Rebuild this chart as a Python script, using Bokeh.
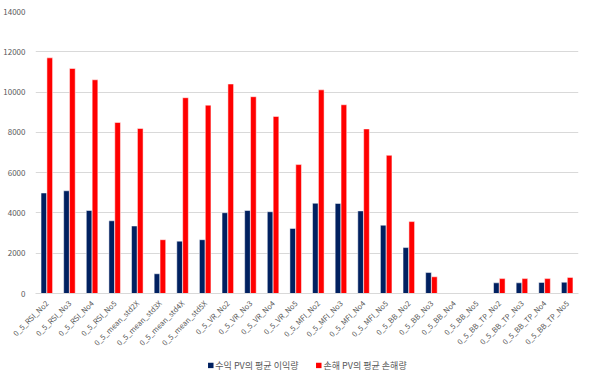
from bokeh.plotting import figure
from bokeh.models import ColumnDataSource, FactorRange, FixedTicker, Legend, LegendItem
from bokeh.transform import dodge
from bokeh.layouts import column
from bokeh.embed import file_html
from bokeh.resources import INLINE
import math

categories = ["0_5_RSI_No2", "0_5_RSI_No3", "0_5_RSI_No4", "0_5_RSI_No5",
              "0_5_mean_std2X", "0_5_mean_std3X", "0_5_mean_std4X", "0_5_mean_std5X",
              "0_5_VR_No2", "0_5_VR_No3", "0_5_VR_No4", "0_5_VR_No5",
              "0_5_MFI_No2", "0_5_MFI_No3", "0_5_MFI_No4", "0_5_MFI_No5",
              "0_5_BB_No2", "0_5_BB_No3", "0_5_BB_No4", "0_5_BB_No5",
              "0_5_BB_TP_No2", "0_5_BB_TP_No3", "0_5_BB_TP_No4", "0_5_BB_TP_No5"]
profit = [4990, 5100, 4120, 3610, 3350, 980, 2600, 2670,
          4010, 4120, 4060, 3230, 4480, 4470, 4100, 3390,
          2280, 1040, 0, 0, 530, 530, 550, 560]
loss = [11700, 11170, 10610, 8490, 8190, 2670, 9720, 9350,
        10400, 9770, 8790, 6400, 10110, 9370, 8170, 6860,
        3570, 830, 0, 0, 740, 740, 740, 800]
yticks = [0, 2000, 4000, 6000, 8000, 10000, 12000, 14000]

series_names = ["수익 PV의 평균 이익량", "손해 PV의 평균 손해량"]
colors = ["#002060", "#FF0000"]

src = ColumnDataSource(dict(cat=categories, profit=profit, loss=loss))

FONT = "Noto Sans CJK KR"

p = figure(width=590, height=354, x_range=FactorRange(*categories), y_range=(0, 14000),
           output_backend="svg", toolbar_location=None,
           min_border_left=25, min_border_right=12, min_border_top=11, min_border_bottom=55)
p.outline_line_color = None

p.vbar(x=dodge("cat", -0.13, range=p.x_range), top="profit", width=0.25,
       source=src, fill_color=colors[0], line_color="white", line_width=0.5)
p.vbar(x=dodge("cat", 0.13, range=p.x_range), top="loss", width=0.25,
       source=src, fill_color=colors[1], line_color="white", line_width=0.5)

p.yaxis.ticker = FixedTicker(ticks=yticks)
p.yaxis.axis_line_color = None
p.yaxis.major_tick_line_color = None
p.yaxis.minor_tick_line_color = None
p.yaxis.major_label_text_font = FONT
p.yaxis.major_label_text_font_size = "8px"
p.yaxis.major_label_text_color = "#595959"
p.yaxis.major_label_standoff = 4

p.xaxis.axis_line_color = "#d9d9d9"
p.xaxis.major_tick_line_color = None
p.xaxis.minor_tick_line_color = None
p.xaxis.major_label_orientation = math.pi / 4
p.xaxis.major_label_text_font = FONT
p.xaxis.major_label_text_font_size = "7.5px"
p.xaxis.major_label_text_color = "#595959"
p.xaxis.major_label_standoff = 2

p.xgrid.grid_line_color = None
p.ygrid.grid_line_color = "#d9d9d9"

# legend strip: hidden renderers only supply the legend swatches
lg = figure(width=590, height=22, x_range=FactorRange(*categories), y_range=(0, 14000),
            output_backend="svg", toolbar_location=None,
            min_border_left=0, min_border_right=0, min_border_top=0, min_border_bottom=0)
lg.outline_line_color = None
lg.axis.visible = False
lg.grid.grid_line_color = None
d1 = lg.vbar(x="cat", top="profit", width=0.25, source=src, fill_color=colors[0], line_color=None)
d2 = lg.vbar(x="cat", top="loss", width=0.25, source=src, fill_color=colors[1], line_color=None)
d1.visible = False
d2.visible = False

legend = Legend(items=[LegendItem(label=series_names[0], renderers=[d1]),
                       LegendItem(label=series_names[1], renderers=[d2])],
                orientation="horizontal", location="center")
legend.label_text_font = FONT
legend.label_text_font_size = "9px"
legend.label_text_color = "#595959"
legend.label_height = 10
legend.glyph_width = 7
legend.glyph_height = 7
legend.label_standoff = 2
legend.spacing = 16
legend.padding = 0
legend.margin = 0
legend.border_line_color = None
legend.background_fill_alpha = 0
legend.inactive_fill_alpha = 0
lg.add_layout(legend, "center")

layout = column(p, lg, spacing=0)
open("out.html", "w").write(file_html(layout, INLINE))
